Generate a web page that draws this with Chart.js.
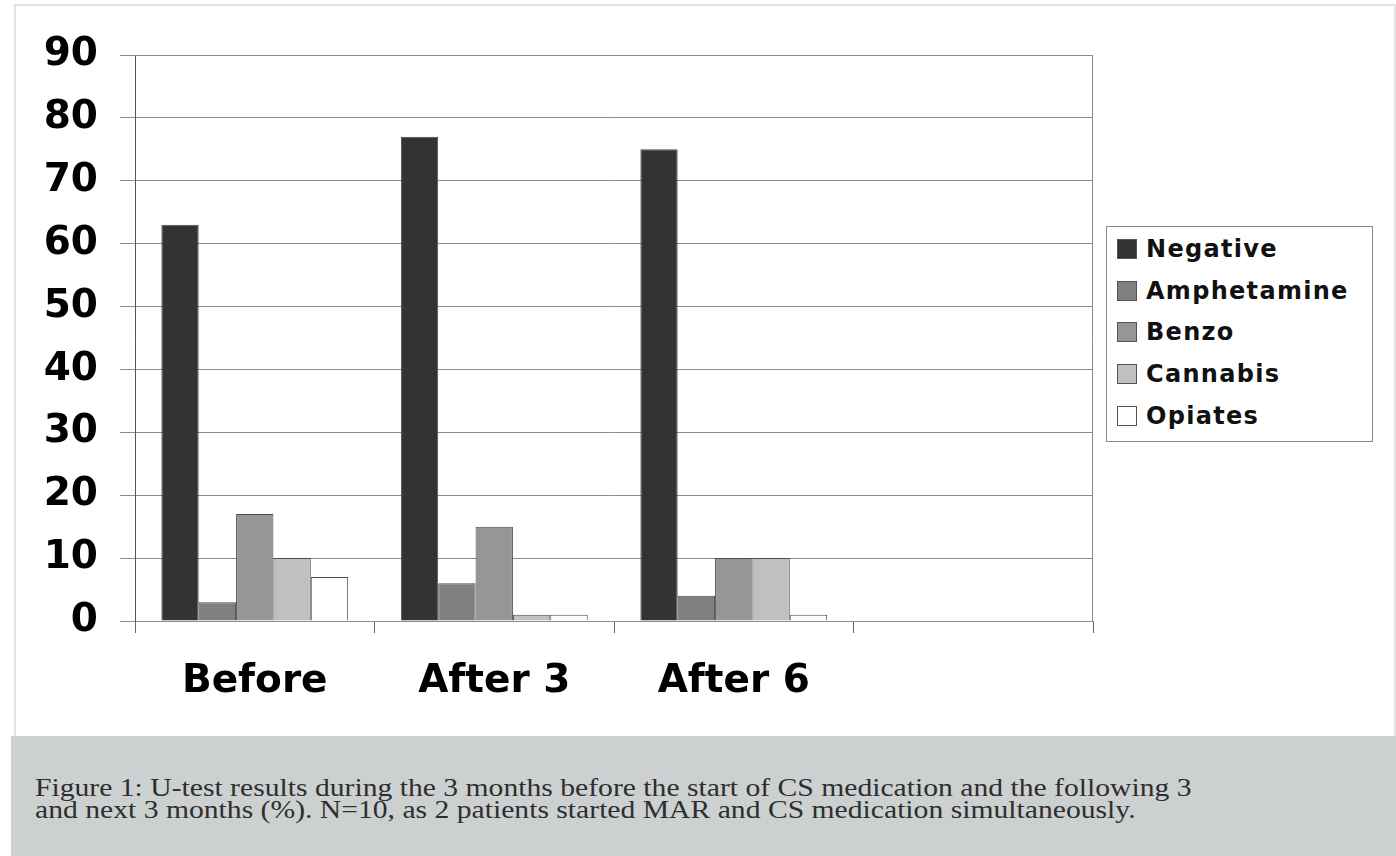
<!DOCTYPE html>
<html>
<head>
<meta charset="utf-8">
<script src="https://cdn.jsdelivr.net/npm/chart.js@4.4.1/dist/chart.umd.min.js"></script>
<style>
  html, body { margin: 0; padding: 0; background: #ffffff; }
  body { width: 1396px; height: 856px; position: relative; overflow: hidden; }
  #panel { position: absolute; left: 14px; top: 4px; width: 1378px; height: 732px;
           border: 2px solid #e2e2e2; border-bottom: none; background: #ffffff; }
  #chartWrap { position: absolute; left: 0; top: 0; width: 1396px; height: 736px; }
  #legend { position: absolute; left: 1106px; top: 226px; width: 265px; height: 214px;
            border: 1px solid #8a8a8a; background: #ffffff; box-sizing: content-box; }
  .item { position: absolute; left: 10px; height: 24px; display: flex; align-items: center;
          font-family: "DejaVu Sans", sans-serif; font-weight: bold; font-size: 24px;
          color: #111; letter-spacing: 1.3px; white-space: nowrap; }
  .sw { width: 20px; height: 20px; border: 1px solid #555; margin-right: 9px; box-sizing: border-box; }
  #caption { position: absolute; left: 11px; top: 736px; width: 1385px; height: 120px; background: #cdd0d1; }
  #caption p { position: absolute; left: 24px; top: 41px; margin: 0;
               font-family: "Liberation Serif", "Times New Roman", serif; font-size: 26px;
               line-height: 22px; color: #2e2e2e; white-space: nowrap;
               transform: scaleX(1.14); transform-origin: 0 0; }
</style>
</head>
<body>
<div id="panel"></div>
<div id="chartWrap"><canvas id="c" width="1396" height="736"></canvas></div>
<div id="legend"></div>
<div id="caption"><p>Figure 1: U-test results during the 3 months before the start of CS medication and the following 3<br>and next 3 months (%). N=10, as 2 patients started MAR and CS medication simultaneously.</p></div>
<script>
// Periods (the fourth slot is left blank, as in the original figure)
const categories = ["Before", "After 3", "After 6", ""];

// Share of U-test results per period (%)
const negative    = [63, 77, 75, null];
const amphetamine = [3, 6, 4, null];
const benzo       = [17, 15, 10, null];
const cannabis    = [10, 1, 10, null];
const opiates     = [7, 1, 1, null];

const seriesNames  = ["Negative", "Amphetamine", "Benzo", "Cannabis", "Opiates"];
const seriesColors = ["#333333", "#808080", "#969696", "#c0c0c0", "#ffffff"];
const seriesValues = [negative, amphetamine, benzo, cannabis, opiates];

const yTicks = [0, 10, 20, 30, 40, 50, 60, 70, 80, 90];

const axisFont = { family: "DejaVu Sans", weight: "bold", size: 39 };

// thin frame around the plotting area
const plotFrame = {
  id: "plotFrame",
  afterDraw(chart) {
    const { ctx, chartArea: a } = chart;
    ctx.save();
    ctx.strokeStyle = "#8c8c8c";
    ctx.lineWidth = 1;
    ctx.beginPath();
    ctx.moveTo(a.left, a.top + 0.5);
    ctx.lineTo(a.right - 0.5, a.top + 0.5);
    ctx.lineTo(a.right - 0.5, a.bottom);
    ctx.stroke();
    ctx.restore();
  }
};

const chart = new Chart(document.getElementById("c"), {
  type: "bar",
  data: {
    labels: categories,
    datasets: seriesNames.map((name, i) => ({
      label: name,
      data: seriesValues[i],
      backgroundColor: seriesColors[i],
      borderColor: "#4d4d4d",
      borderWidth: 1,
      categoryPercentage: 0.78,
      barPercentage: 1.0
    }))
  },
  options: {
    responsive: false,
    animation: false,
    layout: { padding: { left: 0, top: 55, right: 303, bottom: 0 } },
    plugins: { legend: { display: false }, tooltip: { enabled: false } },
    scales: {
      x: {
        offset: true,
        grid: { drawOnChartArea: false, offset: true, tickLength: 12, color: "#666666", lineWidth: 1 },
        border: { color: "#8c8c8c", width: 1 },
        ticks: { font: axisFont, color: "#000000", padding: 25, maxRotation: 0 },
        afterFit(scale) { scale.height = 115; }
      },
      y: {
        min: 0,
        max: 90,
        afterBuildTicks(scale) { scale.ticks = yTicks.map(v => ({ value: v })); },
        grid: { color: "#8c8c8c", lineWidth: 1, tickLength: 15 },
        border: { color: "#555555", width: 1 },
        ticks: { font: axisFont, color: "#000000", padding: 22 },
        afterFit(scale) { scale.width = 135; }
      }
    }
  },
  plugins: [plotFrame]
});

// legend box built from the same series
const legend = document.getElementById("legend");
const rowCenters = [22, 64, 105, 147, 189];
seriesNames.forEach((name, i) => {
  const row = document.createElement("div");
  row.className = "item";
  row.style.top = (rowCenters[i] - 12) + "px";
  const sw = document.createElement("span");
  sw.className = "sw";
  sw.style.background = seriesColors[i];
  row.appendChild(sw);
  row.appendChild(document.createTextNode(name));
  legend.appendChild(row);
});
</script>
</body>
</html>
